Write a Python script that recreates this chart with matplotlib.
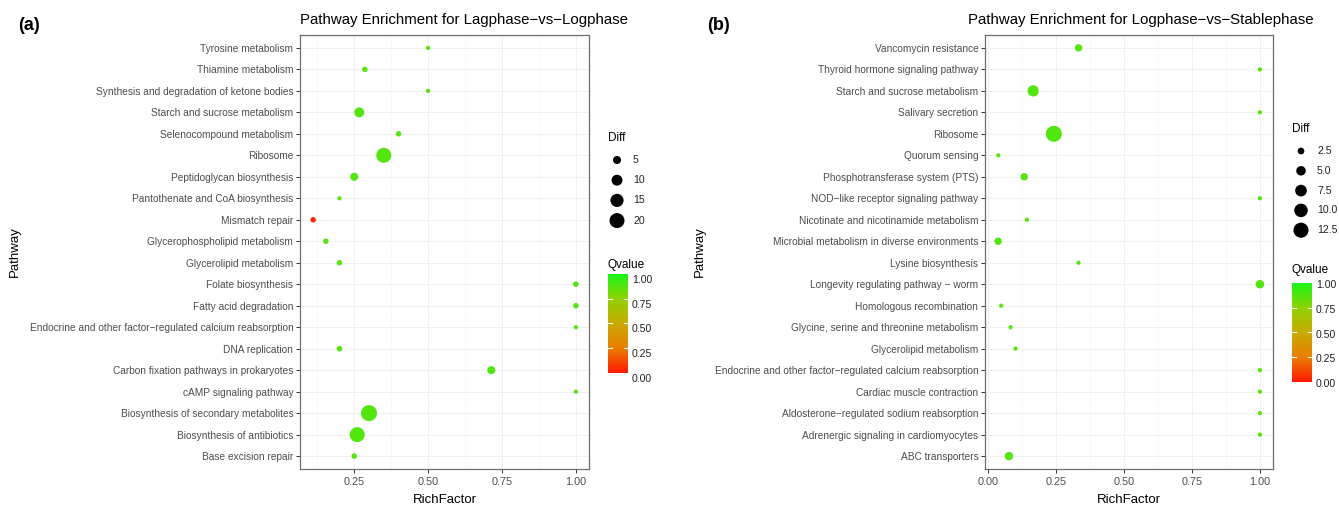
import numpy as np
import matplotlib
matplotlib.use("Agg")
import matplotlib.pyplot as plt
from matplotlib.colors import LinearSegmentedColormap

plt.rcParams['font.family'] = ['Liberation Sans', 'DejaVu Sans']

W, H = 1339, 511

# ---- panel (a): Lagphase vs Logphase (top to bottom as drawn)
pathways_a = [
    "Tyrosine metabolism", "Thiamine metabolism",
    "Synthesis and degradation of ketone bodies", "Starch and sucrose metabolism",
    "Selenocompound metabolism", "Ribosome", "Peptidoglycan biosynthesis",
    "Pantothenate and CoA biosynthesis", "Mismatch repair",
    "Glycerophospholipid metabolism", "Glycerolipid metabolism",
    "Folate biosynthesis", "Fatty acid degradation",
    "Endocrine and other factor\u2212regulated calcium reabsorption",
    "DNA replication", "Carbon fixation pathways in prokaryotes",
    "cAMP signaling pathway", "Biosynthesis of secondary metabolites",
    "Biosynthesis of antibiotics", "Base excision repair",
]
rich_a = [0.50, 0.286, 0.50, 0.267, 0.40, 0.35, 0.25, 0.20, 0.111, 0.154,
          0.20, 1.00, 1.00, 1.00, 0.20, 0.714, 1.00, 0.30, 0.26, 0.25]
diff_a = [1, 2, 1, 8, 2, 20, 5, 1, 2, 2, 2, 2, 2, 1, 2, 5, 1, 23, 20, 2]
qval_a = [0.88, 0.88, 0.88, 0.88, 0.88, 0.88, 0.88, 0.88, 0.03, 0.88,
          0.88, 0.88, 0.88, 0.88, 0.88, 0.88, 0.88, 0.88, 0.88, 0.88]
size_breaks_a = [5, 10, 15, 20]

# ---- panel (b): Logphase vs Stablephase
pathways_b = [
    "Vancomycin resistance", "Thyroid hormone signaling pathway",
    "Starch and sucrose metabolism", "Salivary secretion", "Ribosome",
    "Quorum sensing", "Phosphotransferase system (PTS)",
    "NOD\u2212like receptor signaling pathway",
    "Nicotinate and nicotinamide metabolism",
    "Microbial metabolism in diverse environments", "Lysine biosynthesis",
    "Longevity regulating pathway \u2212 worm", "Homologous recombination",
    "Glycine, serine and threonine metabolism", "Glycerolipid metabolism",
    "Endocrine and other factor\u2212regulated calcium reabsorption",
    "Cardiac muscle contraction", "Aldosterone\u2212regulated sodium reabsorption",
    "Adrenergic signaling in cardiomyocytes", "ABC transporters",
]
rich_b = [0.333, 1.00, 0.166, 1.00, 0.242, 0.038, 0.133, 1.00, 0.143, 0.037,
          0.333, 1.00, 0.048, 0.083, 0.101, 1.00, 1.00, 1.00, 1.00, 0.077]
diff_b = [3, 1, 7, 1, 14, 1, 3, 1, 1, 3, 1, 4, 1, 1, 1, 1, 1, 1, 1, 4]
qval_b = [0.88] * 20
size_breaks_b = [2.5, 5.0, 7.5, 10.0, 12.5]

q_colors = [(0.0, "#FF1A00"), (0.25, "#EA7F00"), (0.5, "#C9AA00"),
            (0.75, "#90D200"), (1.0, "#1AF51A")]
cmap = LinearSegmentedColormap.from_list("qv", q_colors)


def px_to_fig(x0, y0, x1, y1):
    return [x0 / W, 1 - y1 / H, (x1 - x0) / W, (y1 - y0) / H]


def make_sizer(values, dmin=4.2, dmax=16.0):
    lo, hi = np.sqrt(min(values)), np.sqrt(max(values))

    def sizer(v):
        d = dmin + (dmax - dmin) * (np.sqrt(np.asarray(v, float)) - lo) / (hi - lo)
        return (d * 0.72) ** 2
    return sizer


def draw_panel(fig, rect, names, rich, diff, qval, title, title_x, ticks):
    ax = fig.add_axes(px_to_fig(*rect))
    n = len(names)
    ypos = np.arange(n)[::-1]
    sizer = make_sizer(diff)
    ax.scatter(rich, ypos, s=sizer(diff), c=qval, cmap=cmap, vmin=0, vmax=1,
               edgecolors='none', zorder=3)
    lo, hi = min(rich), max(rich)
    pad = 0.05 * (hi - lo)
    xlim = (lo - pad, hi + pad)
    ax.set_yticks(ypos)
    ax.set_yticklabels(names)
    ax.set_xticks(ticks)
    ax.set_xticklabels([f"{t:.2f}" for t in ticks])
    minor = [t + 0.125 for t in [ticks[0] - 0.25] + list(ticks)]
    minor = [m for m in minor if xlim[0] < m < xlim[1]]
    ax.set_xticks(minor, minor=True)
    ax.set_xlim(*xlim)
    ax.set_ylim(-0.6, n - 0.4)
    ax.grid(True, which='major', color='#EEEEEE', linewidth=0.6, zorder=0)
    ax.grid(True, which='minor', axis='x', color='#F5F5F5', linewidth=0.4, zorder=0)
    ax.set_axisbelow(True)
    ax.tick_params(axis='both', which='major', length=2.8, width=0.7,
                   color='#333333', labelsize=7.3, labelcolor='#4D4D4D', pad=2)
    ax.tick_params(axis='x', which='minor', length=0)
    ax.tick_params(axis='x', labelsize=7.8, pad=3)
    for sp in ax.spines.values():
        sp.set_color('#6E6E6E')
        sp.set_linewidth(0.9)
    ax.set_xlabel("RichFactor", fontsize=9.5, labelpad=5)
    ax.set_ylabel("Pathway", fontsize=9.5, labelpad=6)
    fig.text(title_x / W, 1 - 20 / H, title, fontsize=10.8, ha='center', va='center')
    return ax, sizer


def draw_legend(lax, sizer, breaks, x0, y_title, y_first, step, q_title_y, cbar_top, lab_off):
    lax.text(x0, y_title, "Diff", fontsize=8.5, ha='left', va='center')
    for k, b in enumerate(breaks):
        yy = y_first + k * step
        lax.scatter([x0 + 9], [yy], s=sizer(b), c='black', edgecolors='none')
        lab = f"{b:g}" if float(b).is_integer() and len(breaks) < 5 else f"{b:.1f}"
        lax.text(x0 + 25, yy, lab, fontsize=7.6, color='#222222', ha='left', va='center')
    lax.text(x0, q_title_y, "Qvalue", fontsize=8.5, ha='left', va='center')
    bw, bh = 20, 99
    grad = np.linspace(1, 0, 200).reshape(-1, 1)
    lax.imshow(grad, cmap=cmap, vmin=0, vmax=1, aspect='auto',
               extent=[x0, x0 + bw, cbar_top + bh, cbar_top], zorder=2)
    for v in [0.0, 0.25, 0.5, 0.75, 1.0]:
        yy = cbar_top + (1 - v) * bh
        if 0 < v < 1:
            lax.plot([x0, x0 + 4], [yy, yy], color='white', lw=0.8, zorder=3)
            lax.plot([x0 + bw - 4, x0 + bw], [yy, yy], color='white', lw=0.8, zorder=3)
        lax.text(x0 + bw + 4, yy + lab_off, f"{v:.2f}", fontsize=7.6, color='#222222',
                 ha='left', va='center')


fig = plt.figure(figsize=(W / 100, H / 100), dpi=100)

ax_a, sizer_a = draw_panel(fig, (300, 35, 589, 469), pathways_a, rich_a, diff_a, qval_a,
                           "Pathway Enrichment for Lagphase\u2212vs\u2212Logphase", 464,
                           [0.25, 0.50, 0.75, 1.00])
ax_b, sizer_b = draw_panel(fig, (985, 35, 1273, 469), pathways_b, rich_b, diff_b, qval_b,
                           "Pathway Enrichment for Logphase\u2212vs\u2212Stablephase", 1141,
                           [0.00, 0.25, 0.50, 0.75, 1.00])

# overlay axes in pixel coordinates for legends and panel tags
lax = fig.add_axes([0, 0, 1, 1])
lax.set_xlim(0, W)
lax.set_ylim(H, 0)
lax.axis('off')

draw_legend(lax, sizer_a, size_breaks_a, 608, 138, 160, 20.2, 265, 274, 6)
draw_legend(lax, sizer_b, size_breaks_b, 1292, 129, 151, 19.8, 270, 283, 2)

lax.text(18, 26, "(a)", fontsize=13, fontweight='bold', ha='left', va='center')
lax.text(707, 26, "(b)", fontsize=13, fontweight='bold', ha='left', va='center')

fig.savefig("out.png", dpi=100)
